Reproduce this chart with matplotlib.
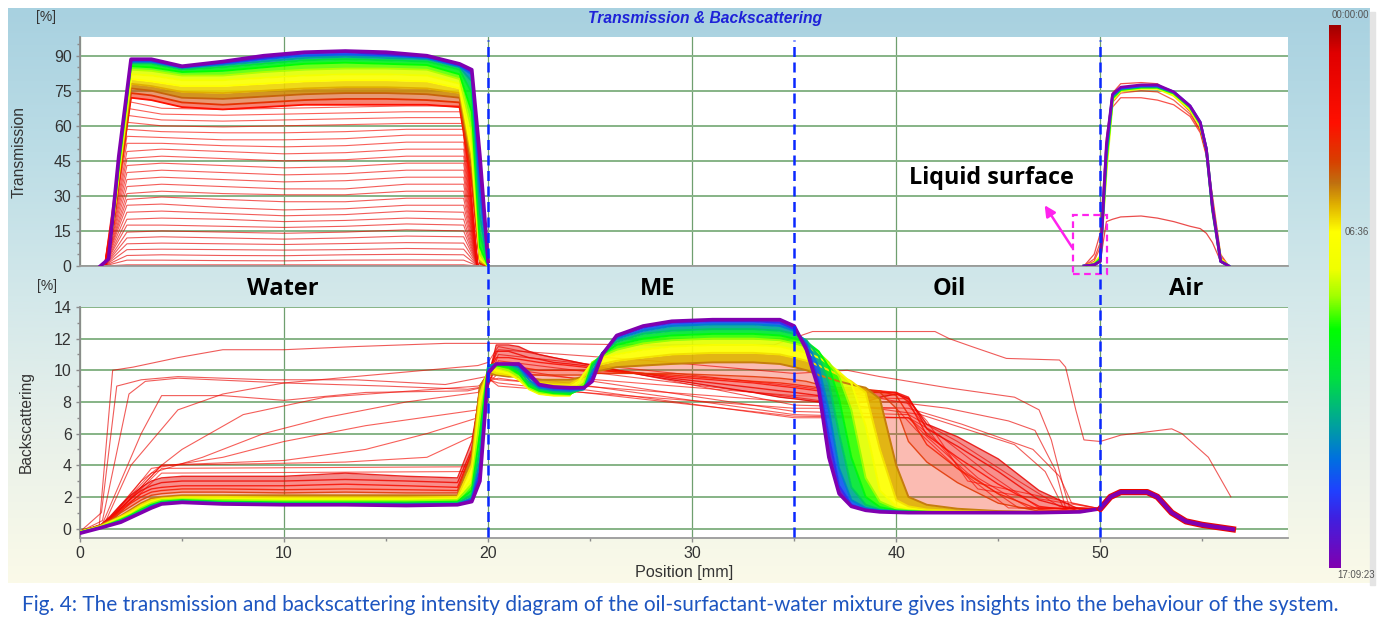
import numpy as np
import matplotlib
matplotlib.use('Agg')
import matplotlib.pyplot as plt
from matplotlib.colors import LinearSegmentedColormap, to_rgb
from matplotlib.patches import Rectangle
from matplotlib.ticker import MultipleLocator

plt.rcParams['font.family'] = ['Liberation Sans', 'DejaVu Sans']

# %% data -------------------------------------------------------------
# colour scale of the measurement time (fraction of 17:09:23)
CB_STOPS = [0.00, 0.05, 0.18, 0.25, 0.29, 0.33, 0.38, 0.45, 0.50, 0.56, 0.65, 0.74, 0.80, 0.86, 0.91, 1.00]
CB_COLORS = ['#a00000', '#e00000', '#ff1000', '#d84000', '#c07010', '#e0b000', '#ffff00', '#f0ff00',
             '#a0ff00', '#00ff00', '#00e040', '#00a0a0', '#0070e0', '#2040ff', '#4020e0', '#8000b0']
CB_LABELS = ['00:00:00', '06:36', '17:09:23']

REGIONS = ['Water', 'ME', 'Oil', 'Air']
REGION_X = [9.95, 28.3, 42.6, 54.2]
BOUNDARIES = [20, 35, 50]

# transmission, early (red) scans: x positions and levels
TR_X = [1.2, 2.3, 4, 7, 10, 13, 16, 18.8, 19.5]
TR_RED = [
    [0, 0.5, 0.5, 0.5, 0.5, 0.5, 0.5, 0.5, 0],
    [0, 2.5, 2.5, 2.3, 2.2, 2.5, 2.6, 2.5, 0],
    [0, 4.5, 4.8, 4.5, 4.4, 4.8, 5.0, 4.8, 0],
    [0, 7.0, 7.2, 7.0, 6.8, 7.0, 7.5, 7.2, 0],
    [0, 9.5, 9.8, 9.5, 9.2, 9.6, 10.0, 9.8, 0],
    [0, 12.0, 12.5, 12.0, 11.5, 12.0, 12.8, 12.5, 0],
    [0, 14.5, 15.0, 14.5, 14.0, 14.5, 15.5, 15.0, 0],
    [0, 17.5, 17.5, 17.0, 16.5, 17.0, 18.0, 17.5, 0],
    [0, 20.0, 20.5, 20.0, 19.0, 19.5, 20.5, 20.0, 0],
    [0, 23.0, 23.5, 22.5, 21.5, 22.0, 23.5, 23.0, 0],
    [0, 26.0, 26.5, 25.0, 24.0, 24.5, 26.0, 26.0, 0],
    [0, 28.5, 29.5, 28.5, 27.5, 27.5, 29.0, 29.0, 0],
    [0, 31.0, 32.0, 31.0, 30.5, 30.5, 32.0, 32.0, 0],
    [0, 34.0, 35.0, 34.0, 33.0, 33.0, 35.0, 35.0, 0],
    [0, 37.0, 38.0, 37.0, 36.0, 36.5, 38.0, 38.0, 0],
    [0, 40.0, 41.0, 40.0, 39.0, 39.5, 41.0, 41.0, 0],
    [0, 43.0, 44.0, 43.0, 42.0, 42.5, 44.0, 44.0, 0],
    [0, 46.0, 47.0, 46.0, 45.0, 45.5, 47.0, 47.0, 0],
    [0, 49.0, 50.0, 49.0, 48.0, 48.5, 50.0, 50.0, 0],
    [0, 52.5, 52.5, 51.5, 51.0, 51.5, 53.0, 53.0, 0],
    [0, 55.5, 55.0, 54.0, 54.0, 54.5, 56.0, 56.0, 0],
    [0, 58.5, 57.5, 57.0, 57.0, 57.5, 58.5, 58.5, 0],
    [0, 61.5, 60.0, 59.5, 60.0, 60.5, 61.0, 61.0, 0],
    [0, 64.5, 62.5, 62.0, 62.5, 63.0, 63.5, 63.5, 0],
    [0, 67.5, 65.0, 64.5, 65.0, 65.5, 66.0, 66.0, 0],
    [0, 70.5, 67.5, 67.0, 67.5, 68.0, 68.5, 68.5, 0],
]

# transmission, later scans in the water phase
TW_X = [1.0, 1.4, 1.9, 2.5, 3.5, 5.0, 7.0, 9.0, 11.0, 13.0, 15.0, 17.0, 18.6, 19.2, 19.6, 20.0]
TW_T = [0.18, 0.23, 0.28, 0.33, 0.38, 0.43, 0.49, 0.56, 0.64, 0.73, 0.82, 0.91, 1.0]
TW_Y = [
    [0, 3, 35, 72, 71, 68, 67, 68, 69, 69, 69, 69, 68, 35, 1, 0],
    [0, 3, 36, 74, 73, 70, 69, 70, 71, 71.5, 71.5, 71, 70, 38, 1, 0],
    [0, 3, 37, 76, 75, 72, 71.5, 72.5, 73.5, 74, 74, 73.5, 72, 42, 2, 0],
    [0, 3, 38, 78, 77, 74.5, 74, 75, 76, 76.5, 76.5, 76, 74, 45, 2, 0],
    [0, 3, 39, 80, 79, 77, 77, 78, 79, 79.5, 79.5, 79, 76, 48, 3, 0],
    [0, 3, 40, 82, 81.5, 79.5, 79.5, 80.5, 81.5, 82, 82, 81.5, 78, 52, 4, 0],
    [0, 3, 41, 84, 83.5, 81.5, 81.5, 83, 84, 84.5, 84.5, 84, 80, 58, 5, 0],
    [0, 3, 42, 85.5, 85, 83, 83.5, 85, 86.5, 87, 86.5, 86, 82, 66, 8, 0],
    [0, 3, 43, 86.5, 86.5, 84, 85, 86.5, 88, 88.5, 88, 87.5, 84, 74, 14, 0],
    [0, 3, 44, 87, 87, 84.5, 86, 87.5, 89, 89.5, 89, 88.5, 85, 79, 22, 0],
    [0, 3, 45, 87.5, 87.5, 85, 86.5, 88.5, 90, 90.5, 90, 89, 85.5, 82, 32, 1],
    [0, 3, 46, 88, 88, 85, 87, 89, 91, 91.5, 90.5, 89.5, 86, 83, 40, 1],
    [0, 3, 47, 88.5, 88.5, 85.5, 87.5, 90, 91.5, 92, 91.5, 90, 86.5, 84, 47, 2],
]

# transmission above the liquid surface (air)
TA_X = [49.2, 49.7, 50.0, 50.3, 50.6, 51.0, 52.0, 52.8, 53.6, 54.4, 54.9, 55.2, 55.5, 55.9, 56.3]
TA_T = [0.0, 0.03, 0.08, 0.15, 0.38, 0.55, 0.8, 1.0]
TA_Y = [
    [0, 0, 2, 19, 20, 21, 21.4, 20.5, 19, 17, 16, 14, 10, 2, 0],
    [0, 5, 14, 55, 74, 78, 78.5, 78, 73, 66, 58, 48, 30, 5, 0],
    [0, 3, 10, 48, 68, 72, 72, 71, 69, 64, 57, 47, 28, 4, 0],
    [0, 2, 8, 45, 70, 74, 75, 74.5, 71, 65, 58, 48, 27, 3, 0],
    [0, 1, 4, 42, 71, 75, 76, 76, 73, 67, 60, 50, 25, 3, 0],
    [0, 0.5, 3, 46, 72, 75.5, 76.5, 76.5, 74, 68, 61, 50, 24, 2, 0],
    [0, 0.5, 2, 50, 73, 76, 77, 77, 74.5, 68.5, 61.5, 50, 25, 2, 0],
    [0, 0.5, 2, 52, 73.5, 76.5, 77.5, 77.5, 74.5, 68.5, 61.5, 50, 25, 2, 0],
]

# backscattering: positions of the three phases
BW_X = [0, 1.0, 1.5, 2.0, 2.5, 3.0, 3.5, 4.0, 5.0, 7.0, 10.0, 13.0, 16.0, 18.5, 19.2, 19.6, 20.0]
BM_X = [20.4, 21.0, 21.5, 22.0, 22.5, 23.2, 24.0, 24.7, 25.1, 25.6, 26.3, 27.6, 29.0, 31.0, 33.0, 34.3, 35.0]
BO_X = [35.6, 36.2, 36.7, 37.2, 37.8, 38.5, 39.2, 40.0, 40.6, 41.5, 43.0, 45.0, 47.0, 49.0, 50.0]

# backscattering, later (rainbow) scans
RB_T = [0.30, 0.36, 0.42, 0.50, 0.58, 0.68, 0.78, 0.88, 1.0]
RB_WATER = [
    [-0.2, 0.2, 0.5, 0.8, 1.2, 1.6, 1.9, 2.0, 2.1, 2.1, 2.1, 2.1, 2.1, 2.1, 4.5, 9.0, 9.8],
    [-0.2, 0.15, 0.45, 0.75, 1.1, 1.5, 1.8, 1.9, 2.0, 2.0, 1.95, 1.95, 1.95, 2.0, 4.0, 8.5, 10.0],
    [-0.2, 0.1, 0.4, 0.7, 1.0, 1.4, 1.7, 1.85, 1.9, 1.9, 1.85, 1.85, 1.85, 1.9, 3.2, 8.0, 10.1],
    [-0.2, 0.1, 0.35, 0.6, 0.9, 1.3, 1.6, 1.8, 1.85, 1.8, 1.75, 1.75, 1.75, 1.8, 2.8, 7.0, 10.2],
    [-0.25, 0.08, 0.3, 0.55, 0.85, 1.2, 1.5, 1.7, 1.8, 1.7, 1.65, 1.65, 1.65, 1.7, 2.4, 6.0, 10.3],
    [-0.25, 0.06, 0.28, 0.5, 0.8, 1.1, 1.45, 1.65, 1.75, 1.65, 1.6, 1.6, 1.58, 1.62, 2.1, 5.0, 10.3],
    [-0.25, 0.05, 0.26, 0.45, 0.75, 1.05, 1.4, 1.6, 1.7, 1.6, 1.55, 1.55, 1.52, 1.56, 1.9, 4.2, 10.2],
    [-0.27, 0.05, 0.25, 0.43, 0.72, 1.0, 1.35, 1.58, 1.68, 1.58, 1.52, 1.52, 1.5, 1.53, 1.8, 3.6, 10.0],
    [-0.3, 0.04, 0.22, 0.4, 0.7, 1.0, 1.3, 1.55, 1.65, 1.55, 1.5, 1.5, 1.45, 1.5, 1.7, 3.0, 9.8],
]
RB_ME = [
    [9.7, 9.6, 9.6, 9.5, 9.4, 9.4, 9.4, 9.6, 9.9, 10.0, 10.2, 10.3, 10.4, 10.5, 10.5, 10.4, 10.2],
    [9.8, 9.7, 9.6, 9.4, 9.2, 9.1, 9.1, 9.6, 10.2, 10.4, 10.6, 10.8, 11.0, 11.1, 11.1, 11.0, 10.8],
    [10.0, 9.8, 9.4, 8.8, 8.5, 8.4, 8.4, 9.8, 10.5, 10.8, 11.0, 11.3, 11.5, 11.6, 11.6, 11.5, 11.3],
    [10.2, 10.0, 9.6, 8.9, 8.6, 8.5, 8.45, 9.2, 10.5, 10.9, 11.3, 11.7, 11.9, 12.0, 12.0, 11.9, 11.7],
    [10.3, 10.2, 9.8, 9.0, 8.7, 8.55, 8.5, 8.9, 10.4, 11.0, 11.6, 12.0, 12.2, 12.3, 12.3, 12.2, 12.0],
    [10.4, 10.3, 10.0, 9.2, 8.8, 8.65, 8.6, 8.8, 10.2, 11.1, 11.8, 12.3, 12.5, 12.6, 12.6, 12.5, 12.3],
    [10.4, 10.4, 10.2, 9.4, 8.9, 8.75, 8.7, 8.8, 9.9, 11.1, 12.0, 12.5, 12.8, 12.9, 12.9, 12.8, 12.5],
    [10.4, 10.4, 10.3, 9.6, 9.0, 8.85, 8.8, 8.85, 9.6, 11.1, 12.1, 12.7, 13.0, 13.1, 13.1, 13.0, 12.6],
    [10.4, 10.4, 10.4, 9.8, 9.1, 8.95, 8.9, 8.9, 9.3, 11.0, 12.2, 12.8, 13.1, 13.2, 13.2, 13.2, 12.8],
]
RB_OIL = [
    [10.0, 9.7, 9.5, 9.3, 9.1, 8.9, 8.2, 4.0, 2.0, 1.5, 1.25, 1.1, 1.05, 1.05, 1.25],
    [10.6, 10.3, 10.0, 9.7, 9.3, 8.6, 5.0, 1.8, 1.4, 1.2, 1.1, 1.05, 1.03, 1.05, 1.25],
    [11.1, 10.8, 10.4, 9.9, 9.2, 6.5, 2.4, 1.4, 1.25, 1.12, 1.05, 1.02, 1.02, 1.05, 1.25],
    [11.5, 11.1, 10.5, 9.6, 7.5, 3.2, 1.7, 1.25, 1.15, 1.08, 1.03, 1.0, 1.0, 1.05, 1.25],
    [11.8, 11.2, 10.2, 8.2, 4.5, 2.0, 1.35, 1.15, 1.1, 1.05, 1.02, 1.0, 1.0, 1.05, 1.25],
    [11.9, 10.9, 9.2, 6.0, 2.6, 1.5, 1.2, 1.1, 1.07, 1.03, 1.0, 1.0, 1.0, 1.05, 1.25],
    [11.8, 10.2, 7.5, 3.8, 1.8, 1.3, 1.15, 1.08, 1.05, 1.02, 1.0, 1.0, 1.0, 1.05, 1.25],
    [11.6, 9.3, 5.8, 2.7, 1.5, 1.2, 1.1, 1.05, 1.03, 1.0, 1.0, 1.0, 1.0, 1.05, 1.25],
    [11.3, 8.8, 4.5, 2.2, 1.4, 1.15, 1.05, 1.02, 1.0, 1.0, 1.0, 1.0, 1.0, 1.05, 1.25],
]

# backscattering, dense red scans
RD_T = [0.08, 0.12, 0.16, 0.20, 0.24]
RD_WATER = [
    [-0.2, 0.2, 0.8, 1.5, 2.1, 2.6, 3.0, 3.2, 3.3, 3.3, 3.3, 3.5, 3.3, 3.2, 5.5, 8.5, 9.5],
    [-0.2, 0.2, 0.7, 1.3, 1.9, 2.4, 2.7, 2.9, 3.0, 3.0, 3.0, 3.1, 3.0, 2.9, 5.0, 8.8, 9.7],
    [-0.2, 0.2, 0.6, 1.2, 1.7, 2.2, 2.5, 2.6, 2.7, 2.7, 2.7, 2.8, 2.7, 2.6, 4.8, 9.0, 9.8],
    [-0.2, 0.2, 0.6, 1.1, 1.6, 2.0, 2.3, 2.4, 2.5, 2.5, 2.45, 2.5, 2.45, 2.4, 4.8, 9.0, 9.8],
    [-0.2, 0.2, 0.5, 1.0, 1.4, 1.8, 2.1, 2.2, 2.3, 2.3, 2.25, 2.3, 2.25, 2.25, 4.6, 9.0, 9.8],
]
RD_ME = [
    [11.6, 11.6, 11.5, 11.2, 11.0, 10.8, 10.6, 10.4, 10.3, 10.2, 10.0, 9.7, 9.4, 9.0, 8.6, 8.3, 8.2],
    [11.2, 11.2, 11.0, 10.8, 10.7, 10.5, 10.4, 10.3, 10.2, 10.1, 10.0, 9.8, 9.5, 9.2, 8.9, 8.7, 8.6],
    [10.8, 10.8, 10.7, 10.6, 10.5, 10.4, 10.3, 10.2, 10.1, 10.0, 9.9, 9.8, 9.6, 9.4, 9.2, 9.0, 8.9],
    [10.4, 10.3, 10.2, 10.1, 10.0, 10.0, 10.0, 10.0, 10.0, 10.0, 9.9, 9.8, 9.7, 9.5, 9.3, 9.2, 9.1],
    [10.0, 9.9, 9.8, 9.7, 9.7, 9.7, 9.7, 9.7, 9.8, 9.8, 9.8, 9.8, 9.8, 9.7, 9.6, 9.5, 9.4],
]
RD_OIL = [
    [8.1, 8.0, 7.9, 7.9, 7.9, 8.0, 8.3, 8.5, 8.2, 6.6, 5.8, 4.4, 2.4, 1.2, 1.25],
    [8.5, 8.4, 8.4, 8.4, 8.5, 8.6, 8.6, 8.6, 8.3, 6.3, 5.2, 3.6, 1.8, 1.1, 1.25],
    [8.8, 8.7, 8.7, 8.7, 8.7, 8.7, 8.7, 8.6, 8.0, 5.9, 4.5, 2.8, 1.4, 1.08, 1.25],
    [9.0, 8.9, 8.8, 8.8, 8.8, 8.8, 8.7, 8.4, 7.2, 5.3, 3.8, 2.2, 1.2, 1.05, 1.25],
    [9.3, 9.1, 9.0, 8.9, 8.9, 8.8, 8.6, 7.6, 5.5, 4.2, 2.9, 1.6, 1.1, 1.05, 1.25],
]

# backscattering, first (sparse) scans
BS_T = [0.0, 0.005, 0.012, 0.02, 0.028, 0.035, 0.042, 0.05, 0.056, 0.062, 0.068, 0.074]
BS_X = [
    [0, 0.94, 1.6, 2.6, 4.8, 7, 10, 13.5, 17.9, 20, 21.8, 28, 34, 35.9, 41.9, 42.6, 43.7, 45.4, 48, 48.3,
     48.8, 49.2, 50, 51, 53.5, 54, 55.3, 56.4],
    [0, 1.05, 1.8, 3.0, 4.8, 9.2, 13.5, 17.9, 19.9, 20.5, 28, 35, 37.6, 39.2, 42.5, 45.8, 47.0, 47.6, 48.2,
     48.5, 50],
    [0, 1.1, 2.4, 3.2, 4.8, 10, 15, 19, 20, 20.5, 35, 38, 40.6, 42.5, 45.5, 46.8, 47.8, 48.3, 50],
    [0, 1.1, 3.0, 4.0, 7.0, 10, 14, 19, 20, 20.5, 35, 41.2, 45.8, 47.3, 48.2, 50],
    [0, 1.2, 2.5, 4.8, 7, 10, 19.5, 20, 20.5, 35, 40.6, 43.2, 46.7, 48, 48.6, 50],
    [0, 1.2, 3, 5, 8, 12, 19.5, 20, 20.5, 35, 40.6, 43, 46, 48, 50],
    [0, 1.2, 3.5, 6, 9, 12, 16, 19.5, 20, 20.5, 35, 40.6, 42, 44.5, 47, 50],
    [0, 1.3, 3.5, 7, 10, 14, 19.5, 20, 20.5, 35, 40.6, 42, 44, 46.5, 50],
    [0, 1.3, 4, 10, 14, 17, 19.5, 20, 20.5, 35, 40.6, 41.5, 43.5, 46, 50],
    [0, 1.3, 4, 9, 13, 17, 19.5, 20, 20.5, 35, 40, 41, 43, 45.5, 50],
    [0, 1.3, 4, 19, 19.6, 20.0, 20.5, 35, 40.5, 42, 44, 50],
    [0, 1.3, 4, 19, 19.6, 20.0, 20.5, 35, 40.5, 41.5, 43.5, 50],
]
BS_Y = [
    [-0.2, 0.13, 10.0, 10.2, 10.8, 11.3, 11.3, 11.5, 11.7, 11.7, 11.7, 11.6, 11.6, 12.45, 12.45, 12.0, 11.5,
     10.75, 10.65, 10.2, 7.5, 5.6, 5.5, 5.9, 6.3, 6.0, 4.5, 2.0],
    [-0.2, 1.0, 9.0, 9.4, 9.6, 9.4, 9.4, 9.1, 9.6, 11.3, 10.6, 9.8, 10.0, 9.6, 8.9, 8.3, 7.5, 5.6, 2.6,
     1.3, 1.25],
    [-0.2, 0.5, 8.5, 9.3, 9.5, 9.2, 9.0, 8.8, 9.0, 11.0, 9.0, 8.5, 7.9, 7.6, 6.8, 6.2, 3.7, 1.3, 1.25],
    [-0.2, 0.3, 6.0, 8.4, 8.4, 8.1, 8.6, 8.7, 9.0, 10.6, 8.3, 7.2, 5.3, 3.6, 1.3, 1.25],
    [-0.2, 0.3, 4, 7.5, 8.5, 9.2, 10.3, 10.5, 11.5, 7.8, 7.6, 6.6, 5.0, 3.3, 1.6, 1.25],
    [-0.2, 0.3, 3, 5, 7.2, 8.3, 9.0, 9.3, 10.2, 7.4, 7.2, 5.5, 3, 1.4, 1.25],
    [-0.2, 0.3, 3.5, 4.5, 6, 7, 8, 8.6, 9.2, 9.8, 7.2, 7.0, 6.0, 3.5, 1.3, 1.25],
    [-0.2, 0.3, 3.8, 4.5, 5.5, 6.5, 7.5, 9.3, 9.5, 7.0, 7.0, 5.5, 3.2, 1.3, 1.25],
    [-0.2, 0.3, 4, 4.3, 5, 6, 7, 9.4, 9.2, 7.1, 7.0, 5.8, 3.5, 1.3, 1.25],
    [-0.2, 0.3, 4, 4.1, 4.2, 4.5, 6, 9.5, 9.0, 7.6, 7.6, 6.2, 3.8, 1.3, 1.25],
    [-0.2, 0.3, 3.8, 3.9, 6, 9.6, 9.4, 8.0, 8.0, 5.5, 2.5, 1.25],
    [-0.2, 0.2, 3.5, 3.6, 6, 9.6, 9.9, 8.4, 8.2, 6.8, 3.0, 1.25],
]

# backscattering bump in the air phase
BA_X = [50.0, 50.5, 51.0, 52.3, 52.8, 53.5, 54.2, 55.0, 56.5]
BA_Y = [1.25, 2.0, 2.3, 2.3, 2.0, 1.0, 0.45, 0.23, -0.05]

CAPTION = ('Fig. 4: The transmission and backscattering intensity diagram of the '
           'oil-surfactant-water mixture gives insights into the behaviour of the system.')

# %% figure -------------------------------------------------------------
W, H = 1383, 622
fig = plt.figure(figsize=(W / 100, H / 100), dpi=100)
fig.patch.set_facecolor('white')
cmap = LinearSegmentedColormap.from_list('tb', list(zip(CB_STOPS, CB_COLORS)))


def fx(px):
    return px / W


def fy(py):
    return 1 - py / H


# light blue -> pale yellow panel behind everything
bg = fig.add_axes([0, 0, 1, 1])
bg.set_xlim(0, W)
bg.set_ylim(H, 0)
bg.axis('off')
gy = np.linspace(0, 1, 200)
gstops = [0, 0.25, 0.5, 0.75, 1]
gcols = np.array([to_rgb(c) for c in ['#a8d1e0', '#bcdde6', '#d3e8ea', '#e9f1ea', '#fbfae8']])
grad = np.stack([np.interp(gy, gstops, gcols[:, k]) for k in range(3)], axis=1)[:, None, :]
bg.imshow(grad, extent=(8, 1370, 583, 8), aspect='auto', zorder=0)
bg.add_patch(Rectangle((1370, 12), 5, 573, color='#e4e4e4', zorder=0))

ax_t = fig.add_axes([fx(80), fy(266), fx(1288) - fx(80), fy(37) - fy(266)])
ax_b = fig.add_axes([fx(80), fy(538), fx(1288) - fx(80), fy(307) - fy(538)])

for ax in (ax_t, ax_b):
    ax.set_facecolor('white')
    ax.set_xlim(0, 59.2)
    ax.spines['top'].set_visible(False)
    ax.spines['right'].set_visible(False)
    ax.spines['left'].set_color('#8c8c8c')
    ax.spines['bottom'].set_color('#9a9a9a')
    ax.spines['left'].set_linewidth(1.3)
    ax.spines['bottom'].set_linewidth(1.3)
    ax.set_xticks([0, 10, 20, 30, 40, 50])
    ax.xaxis.set_minor_locator(MultipleLocator(5))
    ax.tick_params(which='major', colors='#8c8c8c', labelcolor='#333333', labelsize=11.5,
                   length=3, width=1, pad=3)
    ax.tick_params(which='minor', colors='#8c8c8c', length=2, width=1)
    ax.yaxis.grid(True, color='#86b386', lw=1.4)
    ax.xaxis.grid(True, color='#6f9f6f', lw=0.9)
    ax.set_axisbelow(True)

ax_t.set_ylim(0, 98)
ax_t.set_yticks(range(0, 91, 15))
ax_t.yaxis.set_minor_locator(MultipleLocator(5))
ax_t.tick_params(axis='x', which='both', length=0, labelbottom=False)

ax_b.set_ylim(-0.6, 14)
ax_b.set_yticks(range(0, 15, 2))
ax_b.yaxis.set_minor_locator(MultipleLocator(1))
ax_b.set_xticks([0, 10, 20, 30, 40, 50], ['0', '10', '20', '30', '40', '50'])

# %% transmission
for i, row in enumerate(TR_RED):
    ax_t.plot(TR_X, row, color=cmap(0.06 + 0.004 * i), lw=0.8, alpha=0.65, zorder=2)
for i in range(len(TW_T) - 1):
    tm = 0.5 * (TW_T[i] + TW_T[i + 1])
    ax_t.fill_between(TW_X, TW_Y[i], TW_Y[i + 1], color=cmap(tm), lw=0,
                      alpha=0.55 if tm < 0.3 else 0.9, zorder=3)
for t, row in zip(TW_T, TW_Y):
    ax_t.plot(TW_X, row, color=cmap(t), lw=1.3 if t < 1 else 2.6, zorder=4)
for i in range(4, len(TA_T) - 1):
    ax_t.fill_between(TA_X, TA_Y[i], TA_Y[i + 1], color=cmap(TA_T[i + 1]), lw=0, zorder=3)
for t, row in zip(TA_T, TA_Y):
    ax_t.plot(TA_X, row, color=cmap(t + 0.06), lw=0.9 if t < 0.3 else 2.0,
              alpha=0.7 if t < 0.3 else 1, zorder=4)

# %% backscattering
for t, xs, ys in zip(BS_T, BS_X, BS_Y):
    ax_b.plot(xs, ys, color=cmap(t + 0.08), lw=0.8, alpha=0.65, zorder=3)

bx = BW_X + BM_X + BO_X
rd = [w + m + o for w, m, o in zip(RD_WATER, RD_ME, RD_OIL)]
rb = [w + m + o for w, m, o in zip(RB_WATER, RB_ME, RB_OIL)]
for i in range(len(rd) - 1):
    ax_b.fill_between(bx, rd[i], rd[i + 1], color=cmap(RD_T[i]), lw=0, alpha=0.45, zorder=2.5)
for t, row in zip(RD_T, rd):
    ax_b.plot(bx, row, color=cmap(t), lw=1.0, alpha=0.85, zorder=3)
ax_b.fill_between(bx, rd[-1], rb[0], color=cmap(0.2), lw=0, alpha=0.3, zorder=3.5)
for i in range(len(rb) - 1):
    ax_b.fill_between(bx, rb[i], rb[i + 1], color=cmap(0.5 * (RB_T[i] + RB_T[i + 1])), lw=0,
                      alpha=0.92, zorder=4)
for t, row in zip(RB_T, rb):
    ax_b.plot(bx, row, color=cmap(t), lw=1.4 if t < 1 else 2.6, zorder=5)
ax_b.plot(BA_X, BA_Y, color=cmap(0.1), lw=4.5, zorder=5)
ax_b.plot(BA_X, BA_Y, color=cmap(1.0), lw=3.0, zorder=6)

# phase boundaries through both panels
for xb in BOUNDARIES:
    ax_b.plot([xb, xb], [-0.55, 30.9], color='#0a28ff', lw=1.8, dashes=(4, 2.2),
              clip_on=False, zorder=10)

# phase names
for name, xr in zip(REGIONS, REGION_X):
    ax_b.text(xr, 15.14, name, ha='center', va='center', fontsize=17, fontweight='bold',
              family=['Open Sans', 'DejaVu Sans'], color='black', clip_on=False)

# liquid surface marker
ax_t.add_patch(Rectangle((48.68, -3.4), 1.66, 25.3, fill=False, edgecolor='#ff22ee', lw=1.6,
                         ls=(0, (3, 2)), clip_on=False, zorder=11))
ax_t.annotate('', xy=(47.2, 27.0), xytext=(48.7, 6.9),
              arrowprops=dict(arrowstyle='-|>', color='#ff22ee', lw=1.8, mutation_scale=16),
              zorder=11)
liq = ax_t.text(44.65, 37.7, 'Liquid surface', ha='center', va='center', fontsize=15,
                fontweight='bold', family=['Open Sans', 'DejaVu Sans'], color='black', zorder=12)

# %% texts around the axes
title = fig.text(fx(705), fy(18), 'Transmission & Backscattering', ha='center', va='center',
                 fontsize=11.3, fontweight='bold', style='italic', color='#1e22d8')
fig.text(fx(46), fy(17), '[%]', ha='center', va='center', fontsize=10, color='#333333')
fig.text(fx(47), fy(286), '[%]', ha='center', va='center', fontsize=10, color='#333333')
fig.text(fx(19), fy(152), 'Transmission', rotation=90, ha='center', va='center',
         fontsize=11.2, color='#333333')
fig.text(fx(26), fy(422), 'Backscattering', rotation=90, ha='center', va='center',
         fontsize=11.2, color='#333333')
fig.text(fx(684), fy(572), 'Position [mm]', ha='center', va='center', fontsize=11.6, color='#333333')

# colour bar for the scan time
cax = fig.add_axes([fx(1329), fy(568), fx(12), fy(25) - fy(568)])
cax.imshow(np.linspace(0, 1, 256)[:, None], cmap=cmap, aspect='auto')
cax.axis('off')
fig.text(fx(1350), fy(15), CB_LABELS[0], ha='center', va='center', fontsize=7, color='#555555')
fig.text(fx(1357), fy(232), CB_LABELS[1], ha='center', va='center', fontsize=7, color='#555555')
fig.text(fx(1356), fy(575), CB_LABELS[2], ha='center', va='center', fontsize=7, color='#555555')

cap = fig.text(fx(22), fy(605), CAPTION, ha='left', va='center', fontsize=14,
               family=['Lato', 'DejaVu Sans'], color='#1d55c0')

# match text widths to the original layout
renderer = fig.canvas.get_renderer()
for obj, target in [(cap, 1318), (title, 234), (liq, 165)]:
    w = obj.get_window_extent(renderer).width
    obj.set_fontsize(obj.get_fontsize() * target / w)

fig.savefig('out.png', dpi=100, facecolor='white')
